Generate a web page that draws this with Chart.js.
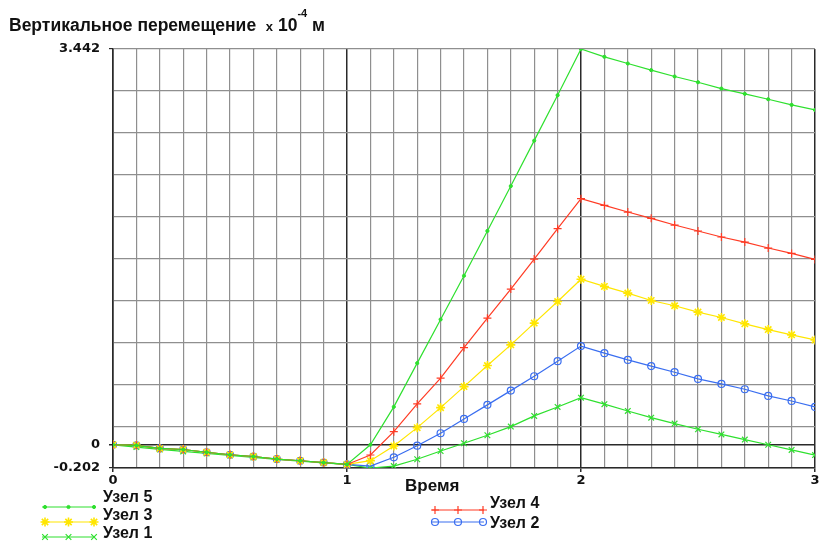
<!DOCTYPE html>
<html>
<head>
<meta charset="utf-8">
<script src="https://cdn.jsdelivr.net/npm/chart.js@4"></script>
<style>
  html, body { margin: 0; padding: 0; background: #fff; }
  #wrap { position: relative; width: 825px; height: 541px; }
  #title {
    position: absolute; left: 9px; top: 10px;
    font: bold 17.5px "Liberation Sans", Arial, sans-serif; color: #111;
    line-height: 20px; white-space: nowrap;
  }
  #title .small { font-size: 13px; }
  #title sup { font-size: 11px; position: relative; top: -7px; vertical-align: super; }
</style>
</head>
<body>
<div id="wrap">
  <canvas id="chart" width="825" height="541"></canvas>
  <div id="title">Вертикальное перемещение&nbsp; <span class="small">x</span> 10<sup>-4</sup> м</div>
</div>
<script>
// time values (x axis)
const times = [0, 0.1, 0.2, 0.3, 0.4, 0.5, 0.6, 0.7, 0.8, 0.9, 1.0,
               1.1, 1.2, 1.3, 1.4, 1.5, 1.6, 1.7, 1.8, 1.9, 2.0,
               2.1, 2.2, 2.3, 2.4, 2.5, 2.6, 2.7, 2.8, 2.9, 3.0];

// vertical displacement, x 10^-4 m
const node5 = [0, -0.005, -0.032, -0.041, -0.065, -0.087, -0.102, -0.124, -0.139, -0.155, -0.171,
               0.0, 0.33, 0.71, 1.09, 1.47, 1.86, 2.25, 2.645, 3.04, 3.442,
               3.374, 3.316, 3.258, 3.203, 3.153, 3.098, 3.052, 3.005, 2.956, 2.912];
const node4 = [0, -0.005, -0.032, -0.041, -0.065, -0.087, -0.102, -0.124, -0.139, -0.155, -0.171,
               -0.089, 0.114, 0.355, 0.579, 0.845, 1.101, 1.354, 1.615, 1.879, 2.140,
               2.082, 2.024, 1.969, 1.911, 1.859, 1.807, 1.763, 1.711, 1.664, 1.612];
const node3 = [0, -0.005, -0.032, -0.041, -0.065, -0.087, -0.102, -0.124, -0.139, -0.155, -0.171,
               -0.138, -0.010, 0.149, 0.323, 0.506, 0.689, 0.869, 1.058, 1.246, 1.440,
               1.377, 1.319, 1.255, 1.209, 1.154, 1.107, 1.052, 1.002, 0.956, 0.912];
const node2 = [0, -0.005, -0.032, -0.041, -0.065, -0.087, -0.102, -0.124, -0.139, -0.155, -0.171,
               -0.185, -0.109, -0.008, 0.100, 0.225, 0.347, 0.471, 0.596, 0.727, 0.858,
               0.797, 0.738, 0.684, 0.631, 0.573, 0.529, 0.483, 0.425, 0.381, 0.329];
const node1 = [0, -0.02, -0.04, -0.058, -0.075, -0.093, -0.11, -0.127, -0.143, -0.158, -0.171,
               -0.202, -0.185, -0.126, -0.054, 0.013, 0.083, 0.158, 0.251, 0.329, 0.410,
               0.353, 0.294, 0.236, 0.184, 0.135, 0.09, 0.045, 0.0, -0.045, -0.09];

const seriesNames = ['Узел 5', 'Узел 4', 'Узел 3', 'Узел 2', 'Узел 1'];

// axis ticks
const yMin = -0.202;
const yMax = 3.442;
const yLabels = ['-0.202', '0', '3.442'];
const xLabels = [0, 1, 2, 3];

const green = '#2ee02e';
const red = '#ff3b24';
const yellow = '#ffe600';
const blue = '#3a6ef0';
const gridColor = '#8f8f8f';
const darkColor = '#2a2a2a';
const textColor = '#111';
const tickFont = { family: '"DejaVu Sans", sans-serif', size: 13, weight: 'bold' };

function pts(values) {
    return values.map((v, i) => ({ x: times[i], y: v }));
}

const styles = [
    { color: green,  pointStyle: 'circle',   radius: 1.6, fill: true,  bw: 1 },
    { color: red,    pointStyle: 'cross',    radius: 4,   fill: false, bw: 1.2 },
    { color: yellow, pointStyle: 'star',     radius: 4.5, fill: false, bw: 1.6 },
    { color: blue,   pointStyle: 'circle',   radius: 3.5, fill: false, bw: 1.2 },
    { color: green,  pointStyle: 'crossRot', radius: 4,   fill: false, bw: 1.2 }
];
const seriesData = [node5, node4, node3, node2, node1];

const datasets = seriesData.map((d, i) => ({
    label: seriesNames[i],
    data: pts(d),
    borderColor: styles[i].color,
    backgroundColor: styles[i].fill ? styles[i].color : 'rgba(0,0,0,0)',
    pointStyle: styles[i].pointStyle,
    pointRadius: styles[i].radius,
    pointBorderWidth: styles[i].bw,
    pointBorderColor: styles[i].color,
    pointBackgroundColor: styles[i].fill ? styles[i].color : 'rgba(0,0,0,0)',
    borderWidth: 1.2,
    tension: 0,
    fill: false
}));

// legend + axis title drawn on canvas at the reference's spots
const legendPlugin = {
    id: 'legendPlugin',
    afterDraw(chart) {
        const ctx = chart.ctx;
        const items = [
            { i: 0, x0: 42,  x1: 95,  ly: 507, tx: 103, ty: 498 },
            { i: 2, x0: 42,  x1: 95,  ly: 522, tx: 103, ty: 516 },
            { i: 4, x0: 42,  x1: 95,  ly: 537, tx: 103, ty: 534 },
            { i: 1, x0: 432, x1: 484, ly: 510, tx: 490, ty: 504 },
            { i: 3, x0: 432, x1: 484, ly: 522, tx: 490, ty: 524 }
        ];
        ctx.save();
        items.forEach(it => {
            const s = styles[it.i];
            ctx.strokeStyle = s.color;
            ctx.lineWidth = 1.2;
            ctx.beginPath();
            ctx.moveTo(it.x0, it.ly);
            ctx.lineTo(it.x1, it.ly);
            ctx.stroke();
            [it.x0 + 3, (it.x0 + it.x1) / 2, it.x1 - 1].forEach(px => {
                ctx.fillStyle = s.fill ? s.color : 'rgba(0,0,0,0)';
                ctx.strokeStyle = s.color;
                ctx.lineWidth = s.bw;
                Chart.helpers.drawPoint(ctx, {
                    pointStyle: s.pointStyle, radius: s.radius, borderWidth: s.bw, rotation: 0
                }, px, it.ly);
            });
            ctx.fillStyle = textColor;
            ctx.font = 'bold 16px "Liberation Sans", Arial, sans-serif';
            ctx.textBaseline = 'middle';
            ctx.textAlign = 'left';
            ctx.fillText(seriesNames[it.i], it.tx, it.ty);
        });
        ctx.font = 'bold 17px "Liberation Sans", Arial, sans-serif';
        ctx.textBaseline = 'middle';
        ctx.fillText('Время', 405, 486);
        ctx.restore();
    }
};

new Chart(document.getElementById('chart'), {
    type: 'line',
    data: { datasets: datasets },
    plugins: [legendPlugin],
    options: {
        responsive: false,
        animation: false,
        layout: { padding: { left: 0, right: 10, top: 49, bottom: 0 } },
        plugins: {
            legend: { display: false },
            tooltip: { enabled: false },
            title: { display: false }
        },
        scales: {
            x: {
                type: 'linear',
                min: 0,
                max: 3,
                afterBuildTicks(scale) {
                    scale.ticks = times.map(t => ({ value: t }));
                },
                afterFit(scale) { scale.height = 541 - 468; },
                ticks: {
                    autoSkip: false,
                    maxRotation: 0,
                    padding: 1,
                    color: textColor,
                    font: tickFont,
                    callback(value) {
                        const r = Math.round(value * 10) / 10;
                        return xLabels.includes(r) ? String(r) : '';
                    }
                },
                grid: {
                    color(c) {
                        const v = Math.round(c.tick.value * 10) / 10;
                        return xLabels.includes(v) ? darkColor : gridColor;
                    },
                    lineWidth(c) {
                        const v = Math.round(c.tick.value * 10) / 10;
                        return xLabels.includes(v) ? 1.5 : 1.2;
                    },
                    tickColor(c) {
                        const v = Math.round(c.tick.value * 10) / 10;
                        return xLabels.includes(v) ? darkColor : 'rgba(0,0,0,0)';
                    },
                    tickLength: 4
                },
                border: { color: darkColor, width: 1.5 }
            },
            y: {
                type: 'linear',
                min: yMin,
                max: yMax,
                afterBuildTicks(scale) {
                    const t = [];
                    for (let k = 0; k <= 10; k++) t.push({ value: yMin + (yMax - yMin) * k / 10 });
                    t.push({ value: 0 });
                    t.sort((a, b) => a.value - b.value);
                    scale.ticks = t;
                },
                afterFit(scale) { scale.width = 113; },
                ticks: {
                    autoSkip: false,
                    padding: 9,
                    color: textColor,
                    font: tickFont,
                    callback(value) {
                        const s = (Math.round(value * 1000) / 1000).toString();
                        return yLabels.includes(s) ? s : '';
                    }
                },
                grid: {
                    color(c) {
                        return Math.abs(c.tick.value) < 1e-9 ? darkColor : gridColor;
                    },
                    lineWidth(c) {
                        return Math.abs(c.tick.value) < 1e-9 ? 1.5 : 1.2;
                    },
                    tickColor(c) {
                        const s = (Math.round(c.tick.value * 1000) / 1000).toString();
                        return yLabels.includes(s) ? darkColor : 'rgba(0,0,0,0)';
                    },
                    tickLength: 4
                },
                border: { color: darkColor, width: 1.5 }
            }
        }
    }
});
</script>
</body>
</html>
